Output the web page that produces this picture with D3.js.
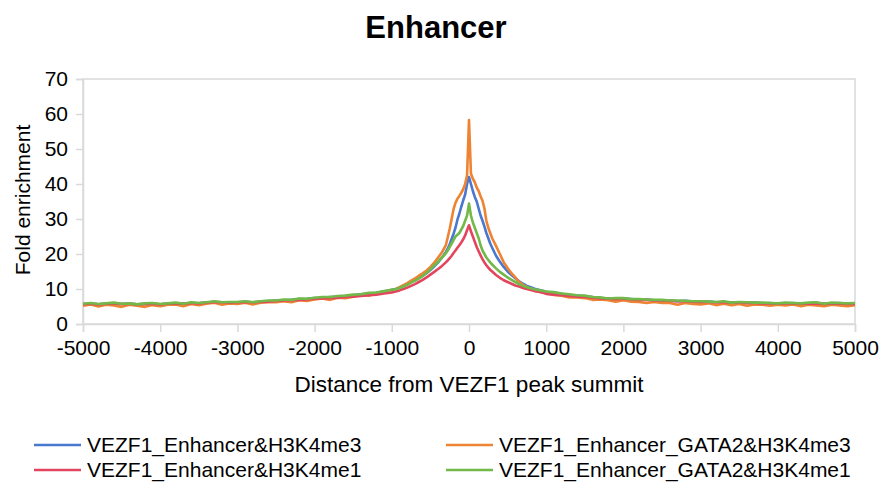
<!DOCTYPE html>
<html>
<head>
<meta charset="utf-8">
<script src="https://cdn.jsdelivr.net/npm/d3@7"></script>
<style>
  body { margin: 0; background: #fff; }
  svg { font-family: "Liberation Sans", Arial, sans-serif; }
</style>
</head>
<body>
<script>
// distance from peak summit (bp)
const positions = [
  -5000, -4900, -4800, -4700, -4600, -4500, -4400, -4300, -4200, -4100,
  -4000, -3900, -3800, -3700, -3600, -3500, -3400, -3300, -3200, -3100,
  -3000, -2900, -2800, -2700, -2600, -2500, -2400, -2300, -2200, -2100,
  -2000, -1900, -1800, -1700, -1600, -1500, -1400, -1300, -1200, -1100, -1000,
  -950, -900, -850, -800, -750, -700, -650, -600, -550, -500, -450, -400, -350, -300,
  -275, -250, -225, -200, -175, -150, -125, -100, -75, -50, -25,
  0,
  25, 50, 75, 100, 125, 150, 175, 200, 225, 250, 275,
  300, 350, 400, 450, 500, 550, 600, 650, 700, 750, 800, 850, 900, 950,
  1000, 1100, 1200, 1300, 1400, 1500, 1600, 1700, 1800, 1900,
  2000, 2100, 2200, 2300, 2400, 2500, 2600, 2700, 2800, 2900,
  3000, 3100, 3200, 3300, 3400, 3500, 3600, 3700, 3800, 3900,
  4000, 4100, 4200, 4300, 4400, 4500, 4600, 4700, 4800, 4900, 5000
];

const blueK4me3 = [
  5.6, 5.8, 5.6, 5.8, 5.9, 5.7, 5.8, 5.6, 5.7, 5.8,
  5.6, 5.8, 5.9, 5.8, 6.0, 5.9, 6.1, 6.3, 6.2, 6.1,
  6.2, 6.3, 6.2, 6.4, 6.5, 6.7, 6.8, 6.9, 7.1, 7.2,
  7.4, 7.5, 7.7, 7.8, 8.0, 8.2, 8.5, 8.7, 8.9, 9.3, 9.8,
  10.0, 10.4, 10.9, 11.4, 12.0, 12.5, 13.1, 13.8, 14.5, 15.4, 16.5, 17.6, 19.0, 20.5,
  21.5, 22.8, 24.3, 25.8, 27.5, 29.8, 31.5, 33.5, 35.3, 37.0, 40.0,
  42.0,
  40.0, 38.0, 36.3, 35.0, 33.0, 31.0, 29.5, 27.8, 26.0, 24.5, 23.0,
  21.8, 19.5, 17.8, 16.3, 15.0, 14.0, 13.1, 12.2, 11.5, 10.9, 10.5, 10.1, 9.8, 9.5,
  9.2, 8.9, 8.6, 8.3, 8.1, 7.9, 7.7, 7.4, 7.3, 7.2,
  7.3, 7.1, 6.9, 7.0, 6.8, 6.7, 6.7, 6.5, 6.6, 6.4,
  6.3, 6.4, 6.2, 6.3, 6.1, 6.2, 6.0, 6.1, 5.9, 6.0,
  5.8, 5.9, 6.0, 5.8, 5.9, 6.0, 5.8, 5.9, 6.0, 5.8, 5.8
];

const orangeGata2K4me3 = [
  5.2, 5.6, 5.0, 5.5, 5.3, 4.9, 5.5, 5.2, 4.9, 5.4,
  5.1, 5.5, 5.6, 5.1, 5.7, 5.4, 5.8, 6.1, 5.5, 5.9,
  5.7, 6.1, 5.6, 6.1, 6.2, 6.2, 6.5, 6.2, 6.8, 6.6,
  7.0, 7.3, 6.9, 7.5, 7.4, 7.8, 8.3, 8.1, 8.7, 9.0, 9.6,
  10.0, 10.5, 11.1, 11.7, 12.4, 13.0, 13.8, 14.5, 15.3, 16.3, 17.5, 19.0, 20.5, 22.5,
  24.8, 27.2, 30.0, 32.8, 34.6, 35.8, 36.6, 37.5, 38.5, 40.0, 42.5,
  58.3,
  43.0, 41.5, 40.5, 39.0, 38.0, 36.5, 35.2, 33.0, 29.5, 27.5, 26.0,
  24.5, 22.3, 20.0, 17.6, 16.0, 14.5, 13.3, 12.0, 11.2, 10.6, 10.0, 9.6, 9.3, 9.0,
  8.8, 8.3, 8.1, 7.6, 7.6, 7.4, 6.9, 7.0, 6.8, 6.4,
  6.8, 6.4, 6.3, 6.0, 6.3, 6.0, 6.0, 5.5, 6.0, 5.7,
  5.6, 5.9, 5.4, 5.8, 5.4, 5.7, 5.2, 5.6, 5.5, 5.2,
  5.5, 5.3, 5.6, 5.1, 5.5, 5.3, 5.1, 5.5, 5.3, 5.1, 5.4
];

const redK4me1 = [
  5.7, 5.8, 5.6, 5.8, 5.9, 5.7, 5.8, 5.6, 5.7, 5.8,
  5.6, 5.8, 5.9, 5.8, 6.0, 5.9, 6.1, 6.3, 6.2, 6.1,
  6.2, 6.3, 6.2, 6.3, 6.4, 6.6, 6.7, 6.8, 6.9, 7.0,
  7.2, 7.3, 7.4, 7.5, 7.7, 7.8, 8.0, 8.2, 8.4, 8.7, 9.0,
  9.3, 9.6, 10.0, 10.4, 10.9, 11.4, 12.0, 12.6, 13.3, 14.1, 14.9, 15.7, 16.6, 17.6,
  18.2, 18.8, 19.5, 20.3, 21.0, 21.8, 22.5, 23.3, 24.2, 25.3, 26.8,
  28.2,
  26.5, 25.0, 23.5, 22.0, 20.8, 19.6, 18.5, 17.6, 16.8, 16.1, 15.5,
  15.0, 14.0, 13.2, 12.5, 12.0, 11.5, 11.0, 10.7, 10.3, 10.0, 9.7, 9.4, 9.2, 9.0,
  8.6, 8.4, 8.2, 8.0, 7.8, 7.7, 7.5, 7.3, 7.2, 7.1,
  7.2, 7.0, 6.9, 6.9, 6.7, 6.7, 6.6, 6.5, 6.5, 6.4,
  6.3, 6.3, 6.2, 6.2, 6.1, 6.1, 6.0, 6.0, 5.9, 5.9,
  5.8, 5.9, 5.9, 5.8, 5.8, 5.9, 5.7, 5.8, 5.9, 5.7, 5.7
];

const greenGata2K4me1 = [
  5.8, 6.0, 5.7, 5.9, 6.1, 5.8, 5.9, 5.6, 5.9, 6.0,
  5.7, 5.9, 6.1, 5.8, 6.2, 6.0, 6.2, 6.5, 6.2, 6.3,
  6.3, 6.5, 6.2, 6.5, 6.7, 6.7, 7.0, 6.9, 7.3, 7.2,
  7.5, 7.7, 7.7, 8.0, 8.1, 8.4, 8.5, 8.9, 9.0, 9.4, 9.8,
  9.9, 10.3, 10.7, 11.2, 11.8, 12.4, 13.0, 13.7, 14.6, 15.6, 16.8, 17.8, 19.0, 20.2,
  21.0, 22.0, 23.0, 24.0, 25.0, 25.5, 26.0, 27.0, 28.0, 29.5, 31.0,
  34.4,
  31.0, 29.0, 27.5, 26.0, 24.5, 22.5, 21.0, 20.0, 19.0, 18.3, 17.6,
  17.0, 15.9, 14.9, 14.1, 13.3, 12.6, 12.0, 11.4, 10.9, 10.5, 10.2, 9.9, 9.7, 9.5,
  9.3, 9.1, 8.7, 8.5, 8.2, 8.1, 7.7, 7.6, 7.3, 7.4,
  7.4, 7.1, 7.1, 7.0, 6.9, 6.9, 6.7, 6.7, 6.6, 6.5,
  6.5, 6.4, 6.3, 6.5, 6.1, 6.3, 6.2, 6.1, 6.1, 6.0,
  5.9, 6.1, 6.0, 5.9, 6.1, 6.2, 5.8, 6.1, 6.0, 5.9, 6.0
];

const seriesNames = [
  "VEZF1_Enhancer&H3K4me3",
  "VEZF1_Enhancer_GATA2&H3K4me3",
  "VEZF1_Enhancer&H3K4me1",
  "VEZF1_Enhancer_GATA2&H3K4me1"
];
const seriesValues = [blueK4me3, orangeGata2K4me3, redK4me1, greenGata2K4me1];
const seriesColors = ["#4a78cf", "#ee8433", "#e3455f", "#72b94a"];

const xTicks = [-5000, -4000, -3000, -2000, -1000, 0, 1000, 2000, 3000, 4000, 5000];
const yTicks = [0, 10, 20, 30, 40, 50, 60, 70];

const width = 879, height = 489;
const margin = { left: 83, right: 24, top: 79, bottom: 165 };

const svg = d3.select("body").append("svg")
  .attr("width", width)
  .attr("height", height);

const x = d3.scaleLinear().domain([-5000, 5000]).range([margin.left, width - margin.right]);
const y = d3.scaleLinear().domain([0, 70]).range([height - margin.bottom, margin.top]);

// title
svg.append("text")
  .attr("x", 436)
  .attr("y", 38)
  .attr("text-anchor", "middle")
  .style("font-size", "31px")
  .style("font-weight", "bold")
  .text("Enhancer");

// plot frame
svg.append("rect")
  .attr("x", x(-5000))
  .attr("y", y(70))
  .attr("width", x(5000) - x(-5000))
  .attr("height", y(0) - y(70))
  .attr("fill", "none")
  .attr("stroke", "#d9d9d9")
  .attr("stroke-width", 1.5);

// axes
const xAxis = svg.append("g")
  .attr("transform", `translate(0,${y(0)})`)
  .call(d3.axisBottom(x).tickValues(xTicks).tickSize(8).tickPadding(8).tickFormat(d3.format("d")));

const yAxis = svg.append("g")
  .attr("transform", `translate(${x(-5000)},0)`)
  .call(d3.axisLeft(y).tickValues(yTicks).tickSize(7).tickPadding(8));

[xAxis, yAxis].forEach(g => {
  g.select(".domain").attr("stroke", "#d9d9d9").attr("stroke-width", 1.5);
  g.selectAll(".tick line").attr("stroke", "#d9d9d9").attr("stroke-width", 1.5);
  g.selectAll(".tick text")
    .attr("fill", "#000")
    .style("font-size", "21px")
    .style("font-family", "'Liberation Sans', Arial, sans-serif");
});
xAxis.selectAll(".tick text").text(d => d3.format("d")(d).replace("\u2212", "-"));

// axis titles
svg.append("text")
  .attr("x", 469)
  .attr("y", 392)
  .attr("text-anchor", "middle")
  .style("font-size", "22.5px")
  .text("Distance from VEZF1 peak summit");

svg.append("text")
  .attr("transform", "translate(30,200) rotate(-90)")
  .attr("text-anchor", "middle")
  .style("font-size", "21px")
  .text("Fold enrichment");

// lines
const line = d3.line()
  .x((d, i) => x(positions[i]))
  .y(d => y(d));

svg.append("g")
  .selectAll("path")
  .data(seriesValues)
  .join("path")
  .attr("d", line)
  .attr("fill", "none")
  .attr("stroke", (d, i) => seriesColors[i])
  .attr("stroke-width", 2.6)
  .attr("stroke-linejoin", "round");

// legend
const legendPos = [
  { x: 34, y: 445 },
  { x: 446, y: 445 },
  { x: 34, y: 470 },
  { x: 446, y: 470 }
];

const legend = svg.append("g")
  .selectAll("g")
  .data(seriesNames)
  .join("g")
  .attr("transform", (d, i) => `translate(${legendPos[i].x},${legendPos[i].y})`);

legend.append("line")
  .attr("x1", 0)
  .attr("x2", 47)
  .attr("stroke", (d, i) => seriesColors[i])
  .attr("stroke-width", 2.5);

legend.append("text")
  .attr("x", 53)
  .attr("y", 7)
  .style("font-size", "21px")
  .text(d => d);
</script>
</body>
</html>
